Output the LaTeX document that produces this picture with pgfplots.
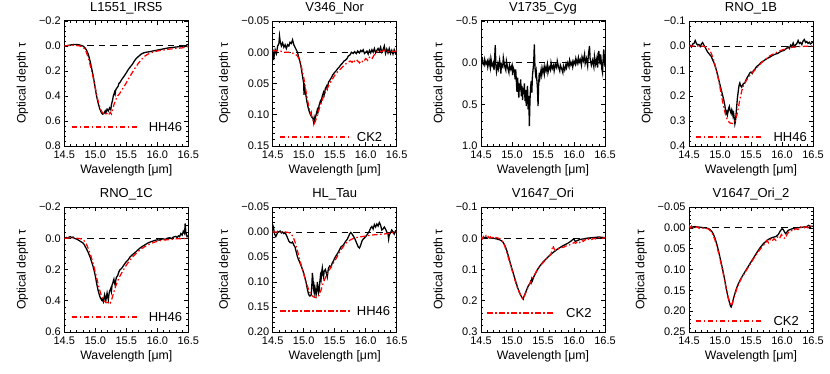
\documentclass[border=0pt]{standalone}
\usepackage{fontspec}
\setmainfont{Liberation Sans}
\usepackage{pgfplots}
\pgfplotsset{compat=1.18}
\definecolor{idlred}{RGB}{255,0,0}
\tikzset{keytext/.style={anchor=west, inner sep=0pt, font=\fontsize{13bp}{15bp}\selectfont}}
\pgfplotsset{
  panel/.style={
    scale only axis, width=124bp, height=125bp,
    anchor=south west,
    xmin=14.5, xmax=16.5,
    xtick={14.5,15,15.5,16,16.5},
    xticklabels={14.5,15.0,15.5,16.0,16.5},
    minor x tick num=4, minor y tick num=4,
    y dir=reverse,
    tick align=inside, xtick pos=both, ytick pos=both,
    xticklabel pos=bottom, yticklabel pos=left,
    major tick length=4bp, minor tick length=2bp,
    every tick/.style={black, line width=0.6pt},
    axis line style={line width=1pt},
    tick label style={font=\fontsize{11bp}{13bp}\selectfont},
    xticklabel style={yshift=-1.5bp},
    label style={font=\fontsize{12.3bp}{14bp}\selectfont},
    title style={font=\fontsize{13bp}{15bp}\selectfont, yshift=-3bp},
    xlabel={Wavelength [μm]},
    ylabel={Optical depth τ},
    xlabel shift=-1bp,
    ylabel shift=4bp,
  },
  obs/.style={black, line width=1.3pt, forget plot},
  mod/.style={idlred, line width=1.25pt, dash pattern=on 5.5bp off 2.5bp on 1.5bp off 2.5bp, forget plot},
  key/.style={idlred, line width=1.5pt, dash pattern=on 5.5bp off 2.5bp on 1.5bp off 2.5bp, forget plot},
  zero/.style={black, line width=1pt, dash pattern=on 6.5bp off 5bp, forget plot},
}
\begin{document}
\begin{tikzpicture}
\path[use as bounding box] (0,0) rectangle (830bp,374bp);
% ---------- Panel 1 ----------
\begin{axis}[panel, at={(64.3bp,228bp)}, title={L1551\_IRS5},
  ymin=-0.2, ymax=0.8, ytick={-0.2,0,0.2,0.4,0.6,0.8},
  yticklabels={−0.2,0.0,0.2,0.4,0.6,0.8}]
\addplot[zero] coordinates {(14.5,0) (16.5,0)};
\addplot[obs] coordinates {
(14.50,0.000)(14.55,-0.003)(14.60,-0.008)(14.65,-0.012)(14.70,-0.012)(14.75,-0.008)
(14.80,0.000)(14.83,0.012)(14.86,0.035)(14.89,0.070)(14.92,0.130)(14.95,0.200)
(14.97,0.250)(15.00,0.340)(15.02,0.400)(15.05,0.465)(15.07,0.500)(15.10,0.535)
(15.12,0.545)(15.14,0.540)(15.16,0.520)(15.17,0.535)(15.19,0.505)(15.21,0.520)
(15.23,0.495)(15.25,0.510)(15.26,0.470)(15.28,0.430)(15.29,0.400)(15.31,0.370)
(15.32,0.385)(15.33,0.350)(15.35,0.335)(15.37,0.320)(15.38,0.300)(15.40,0.290)
(15.43,0.265)(15.46,0.245)(15.50,0.215)(15.53,0.190)(15.56,0.170)(15.60,0.145)
(15.63,0.120)(15.66,0.100)(15.70,0.082)(15.74,0.065)(15.78,0.055)(15.82,0.050)
(15.86,0.047)(15.90,0.043)(15.95,0.038)(16.00,0.033)(16.05,0.028)(16.10,0.023)
(16.15,0.018)(16.20,0.014)(16.25,0.012)(16.30,0.008)(16.35,0.006)(16.40,0.004)
(16.43,-0.002)(16.45,0.003)(16.48,-0.010)(16.50,-0.012)};
\addplot[mod] coordinates {
(14.50,0.000)(14.55,-0.004)(14.60,-0.005)(14.65,-0.006)(14.70,-0.004)(14.75,0.000)
(14.80,0.008)(14.84,0.030)(14.87,0.070)(14.90,0.120)(14.93,0.180)(14.96,0.240)
(14.99,0.310)(15.02,0.385)(15.05,0.450)(15.08,0.500)(15.11,0.530)(15.14,0.540)
(15.17,0.545)(15.20,0.535)(15.22,0.548)(15.24,0.530)(15.26,0.545)(15.28,0.510)
(15.30,0.470)(15.33,0.430)(15.36,0.400)(15.40,0.375)(15.45,0.335)(15.50,0.295)
(15.55,0.250)(15.60,0.210)(15.65,0.170)(15.70,0.135)(15.75,0.105)(15.80,0.080)
(15.85,0.065)(15.90,0.055)(15.95,0.047)(16.00,0.040)(16.10,0.032)(16.20,0.025)
(16.30,0.020)(16.40,0.015)(16.45,0.010)(16.50,0.005)};
\addplot[key] coordinates {(14.62,0.648) (15.668,0.648)};
\node[keytext] at (axis cs:15.86,0.646) {HH46};
\end{axis}
% ---------- Panel 2 ----------
\begin{axis}[panel, at={(272.7bp,228bp)}, title={V346\_Nor},
  ymin=-0.05, ymax=0.15, ytick={-0.05,0,0.05,0.1,0.15},
  yticklabels={−0.05,0.00,0.05,0.10,0.15}]
\addplot[zero] coordinates {(14.5,0) (16.5,0)};
\addplot[obs] coordinates {
(14.50,0.012)(14.51,0.002)(14.52,0.008)(14.54,-0.004)(14.56,0.002)(14.58,-0.010)
(14.60,-0.014)(14.61,-0.026)(14.62,-0.018)(14.64,-0.010)(14.66,-0.015)(14.68,-0.008)
(14.70,-0.012)(14.72,-0.006)(14.74,-0.012)(14.76,-0.010)(14.78,-0.016)(14.80,-0.014)
(14.82,-0.020)(14.84,-0.012)(14.86,-0.008)(14.88,-0.004)(14.90,0.000)(14.92,0.008)
(14.94,0.015)(14.96,0.025)(14.98,0.038)(15.00,0.050)(15.005,0.068)(15.01,0.050)
(15.03,0.065)(15.05,0.078)(15.07,0.088)(15.09,0.095)(15.11,0.100)(15.12,0.097)
(15.13,0.104)(15.15,0.106)(15.16,0.112)(15.17,0.104)(15.18,0.108)(15.20,0.100)
(15.22,0.092)(15.23,0.096)(15.25,0.084)(15.27,0.078)(15.28,0.080)(15.30,0.070)
(15.32,0.064)(15.33,0.068)(15.35,0.058)(15.37,0.054)(15.38,0.058)(15.40,0.048)
(15.42,0.045)(15.45,0.040)(15.47,0.036)(15.50,0.032)(15.52,0.030)(15.55,0.026)
(15.57,0.024)(15.60,0.020)(15.62,0.018)(15.65,0.014)(15.67,0.013)(15.70,0.010)
(15.72,0.006)(15.75,0.004)(15.77,0.000)(15.80,0.002)(15.82,-0.001)(15.85,0.002)
(15.87,-0.002)(15.90,0.001)(15.92,-0.003)(15.94,-0.001)(15.96,-0.004)(15.98,0.002)
(16.00,0.000)(16.02,-0.002)(16.04,0.003)(16.06,-0.003)(16.08,0.001)(16.10,-0.004)
(16.12,0.000)(16.14,-0.006)(16.16,0.001)(16.18,-0.003)(16.20,-0.006)(16.22,-0.002)
(16.24,-0.008)(16.26,0.000)(16.28,-0.004)(16.30,-0.010)(16.32,0.002)(16.34,-0.005)
(16.36,0.001)(16.38,-0.006)(16.40,0.002)(16.42,-0.003)(16.44,0.003)(16.46,-0.004)
(16.48,0.002)(16.50,-0.002)};
\addplot[mod] coordinates {
(14.50,-0.003)(14.55,-0.002)(14.60,-0.003)(14.65,-0.001)(14.70,0.000)(14.75,0.000)
(14.80,0.001)(14.85,0.002)(14.90,0.006)(14.93,0.012)(14.96,0.022)(15.00,0.040)
(15.03,0.058)(15.06,0.076)(15.09,0.090)(15.12,0.100)(15.15,0.108)(15.17,0.114)
(15.19,0.110)(15.21,0.104)(15.24,0.094)(15.27,0.084)(15.30,0.076)(15.35,0.064)
(15.40,0.054)(15.45,0.045)(15.50,0.037)(15.55,0.031)(15.60,0.026)(15.65,0.021)
(15.70,0.017)(15.75,0.014)(15.78,0.016)(15.80,0.012)(15.83,0.016)(15.86,0.013)
(15.90,0.017)(15.93,0.013)(15.96,0.016)(16.00,0.010)(16.03,0.013)(16.06,0.008)
(16.10,0.011)(16.13,0.005)(16.16,0.002)(16.20,-0.002)(16.25,-0.001)(16.30,-0.003)
(16.35,-0.001)(16.40,-0.002)(16.45,-0.001)(16.50,-0.002)};
\addplot[key] coordinates {(14.614,0.1356) (15.774,0.1356)};
\node[keytext] at (axis cs:15.855,0.135) {CK2};
\end{axis}
% ---------- Panel 3 ----------
\begin{axis}[panel, at={(481bp,228bp)}, title={V1735\_Cyg},
  ymin=-0.5, ymax=1.0, ytick={-0.5,0,0.5,1.0},
  yticklabels={−0.5,0.0,0.5,1.0}]
\addplot[zero] coordinates {(14.5,0) (16.5,0)};
\addplot[obs] coordinates {
(14.50,-0.03)(14.51,0.02)(14.52,-0.07)(14.53,0.00)(14.55,0.03)(14.56,-0.04)
(14.58,0.02)(14.60,-0.02)(14.61,0.05)(14.63,-0.03)(14.65,0.06)(14.66,-0.05)
(14.68,0.04)(14.70,0.00)(14.71,0.09)(14.72,-0.05)(14.73,-0.21)(14.74,0.03)
(14.75,0.11)(14.77,0.02)(14.78,0.07)(14.80,-0.03)(14.82,0.13)(14.83,0.02)
(14.85,0.05)(14.86,-0.06)(14.88,0.04)(14.90,0.09)(14.91,-0.02)(14.93,0.06)
(14.95,0.12)(14.96,0.03)(14.98,0.08)(15.00,0.03)(15.01,0.15)(15.02,0.06)
(15.04,0.10)(15.05,0.20)(15.06,0.08)(15.07,0.22)(15.08,0.35)(15.09,0.18)
(15.10,0.30)(15.11,0.42)(15.12,0.25)(15.13,0.33)(15.14,0.20)(15.15,0.40)
(15.16,0.28)(15.17,0.45)(15.18,0.30)(15.19,0.38)(15.20,0.25)(15.21,0.46)
(15.22,0.33)(15.23,0.52)(15.24,0.36)(15.25,0.28)(15.26,0.56)(15.27,0.40)
(15.28,0.76)(15.29,0.45)(15.30,0.30)(15.31,0.22)(15.32,0.36)(15.33,0.15)
(15.34,0.08)(15.35,0.00)(15.36,-0.22)(15.37,0.05)(15.38,0.14)(15.39,0.10)
(15.40,0.20)(15.41,0.30)(15.42,0.52)(15.43,0.25)(15.44,0.12)(15.45,0.18)
(15.47,0.08)(15.48,0.15)(15.50,0.06)(15.52,0.14)(15.53,0.04)(15.55,0.10)
(15.57,0.02)(15.58,0.12)(15.60,0.05)(15.62,0.09)(15.63,0.00)(15.65,0.07)
(15.67,0.03)(15.68,0.10)(15.70,0.02)(15.72,0.06)(15.73,-0.02)(15.75,0.05)
(15.77,0.10)(15.78,0.03)(15.80,0.07)(15.82,0.12)(15.83,0.04)(15.85,0.09)
(15.87,0.02)(15.88,0.06)(15.90,0.00)(15.92,0.05)(15.93,-0.03)(15.95,0.03)
(15.97,-0.01)(15.98,0.05)(16.00,-0.02)(16.02,0.02)(16.03,-0.05)(16.05,0.01)
(16.07,-0.06)(16.08,0.00)(16.10,-0.04)(16.12,0.03)(16.13,-0.07)(16.15,-0.02)
(16.17,-0.10)(16.18,0.01)(16.20,-0.05)(16.22,0.04)(16.23,-0.08)(16.25,-0.20)
(16.26,-0.05)(16.28,0.03)(16.30,-0.03)(16.32,0.05)(16.33,-0.08)(16.35,0.02)
(16.37,-0.06)(16.38,0.06)(16.40,-0.14)(16.42,0.02)(16.43,-0.10)(16.45,0.08)
(16.46,0.12)(16.47,-0.04)(16.48,-0.16)(16.50,0.05)};
\end{axis}
% ---------- Panel 4 ----------
\begin{axis}[panel, at={(689bp,228bp)}, title={RNO\_1B},
  ymin=-0.1, ymax=0.4, ytick={-0.1,0,0.1,0.2,0.3,0.4},
  yticklabels={−0.1,0.0,0.1,0.2,0.3,0.4}]
\addplot[zero] coordinates {(14.5,0) (16.5,0)};
\addplot[obs] coordinates {
(14.50,0.005)(14.52,-0.002)(14.54,0.004)(14.56,-0.008)(14.58,-0.010)(14.60,-0.022)
(14.62,-0.010)(14.64,-0.004)(14.66,-0.006)(14.68,0.002)(14.70,-0.008)(14.72,-0.014)
(14.74,-0.004)(14.76,0.005)(14.78,0.015)(14.80,0.024)(14.82,0.030)(14.84,0.036)
(14.86,0.042)(14.88,0.055)(14.90,0.065)(14.92,0.080)(14.94,0.095)(14.96,0.115)
(14.98,0.135)(15.00,0.155)(15.02,0.175)(15.04,0.195)(15.06,0.215)(15.08,0.240)
(15.09,0.265)(15.10,0.270)(15.11,0.262)(15.12,0.275)(15.14,0.250)(15.15,0.242)
(15.16,0.255)(15.18,0.270)(15.19,0.255)(15.20,0.262)(15.21,0.280)(15.22,0.270)
(15.23,0.290)(15.24,0.312)(15.25,0.300)(15.26,0.270)(15.27,0.240)(15.28,0.210)
(15.29,0.190)(15.30,0.170)(15.31,0.155)(15.32,0.148)(15.33,0.158)(15.35,0.165)
(15.36,0.158)(15.38,0.150)(15.40,0.148)(15.42,0.135)(15.44,0.125)(15.46,0.118)
(15.48,0.108)(15.50,0.104)(15.52,0.110)(15.54,0.098)(15.56,0.094)(15.58,0.086)
(15.60,0.080)(15.63,0.075)(15.66,0.066)(15.70,0.060)(15.73,0.055)(15.76,0.050)
(15.80,0.045)(15.83,0.040)(15.86,0.036)(15.90,0.032)(15.93,0.030)(15.96,0.025)
(16.00,0.020)(16.03,0.018)(16.06,0.012)(16.10,0.004)(16.12,0.010)(16.14,-0.004)
(16.16,0.002)(16.18,-0.012)(16.20,0.002)(16.22,-0.005)(16.24,-0.010)(16.26,-0.022)
(16.28,-0.010)(16.30,-0.014)(16.32,-0.006)(16.34,-0.020)(16.36,-0.026)(16.38,-0.014)
(16.40,-0.018)(16.42,-0.010)(16.44,-0.015)(16.46,-0.008)(16.48,-0.012)(16.50,-0.018)};
\addplot[mod] coordinates {
(14.50,0.000)(14.60,0.000)(14.70,0.000)(14.75,0.002)(14.80,0.006)(14.83,0.015)
(14.86,0.030)(14.89,0.050)(14.92,0.075)(14.95,0.105)(14.98,0.140)(15.01,0.180)
(15.04,0.220)(15.07,0.255)(15.10,0.285)(15.13,0.300)(15.16,0.308)(15.20,0.310)
(15.23,0.306)(15.26,0.290)(15.29,0.255)(15.32,0.215)(15.35,0.180)(15.38,0.158)
(15.42,0.140)(15.46,0.125)(15.50,0.112)(15.55,0.100)(15.60,0.085)(15.65,0.072)
(15.70,0.060)(15.75,0.050)(15.80,0.040)(15.85,0.033)(15.90,0.027)(15.95,0.021)
(16.00,0.016)(16.05,0.012)(16.10,0.008)(16.20,0.004)(16.30,0.002)(16.40,0.001)
(16.50,0.000)};
\addplot[key] coordinates {(14.605,0.364) (15.673,0.364)};
\node[keytext] at (axis cs:15.86,0.365) {HH46};
\end{axis}
% ---------- Panel 5 ----------
\begin{axis}[panel, at={(64.3bp,42bp)}, title={RNO\_1C},
  ymin=-0.2, ymax=0.6, ytick={-0.2,0,0.2,0.4,0.6},
  yticklabels={−0.2,0.0,0.2,0.4,0.6}]
\addplot[zero] coordinates {(14.5,0) (16.5,0)};
\addplot[obs] coordinates {
(14.50,0.000)(14.53,-0.005)(14.56,-0.002)(14.58,-0.008)(14.60,-0.010)(14.62,-0.004)
(14.64,-0.008)(14.66,0.000)(14.68,0.003)(14.70,0.005)(14.72,0.010)(14.74,0.015)
(14.76,0.020)(14.78,0.025)(14.80,0.030)(14.82,0.040)(14.84,0.055)(14.86,0.070)
(14.88,0.085)(14.90,0.105)(14.92,0.125)(14.94,0.150)(14.96,0.175)(14.98,0.205)
(15.00,0.240)(15.02,0.285)(15.04,0.325)(15.06,0.355)(15.08,0.380)(15.10,0.395)
(15.11,0.388)(15.12,0.400)(15.13,0.408)(15.14,0.380)(15.15,0.362)(15.16,0.385)
(15.17,0.400)(15.18,0.370)(15.19,0.350)(15.20,0.375)(15.21,0.395)(15.22,0.360)
(15.23,0.340)(15.24,0.330)(15.25,0.320)(15.26,0.340)(15.27,0.300)(15.28,0.290)
(15.29,0.275)(15.30,0.262)(15.31,0.285)(15.32,0.300)(15.33,0.270)(15.34,0.250)
(15.36,0.240)(15.38,0.215)(15.40,0.200)(15.42,0.195)(15.45,0.178)(15.48,0.160)
(15.50,0.150)(15.53,0.138)(15.56,0.120)(15.60,0.105)(15.63,0.095)(15.66,0.085)
(15.70,0.070)(15.73,0.060)(15.76,0.052)(15.80,0.042)(15.83,0.035)(15.86,0.028)
(15.90,0.022)(15.93,0.018)(15.96,0.014)(16.00,0.010)(16.03,0.012)(16.06,0.006)
(16.10,0.004)(16.13,0.008)(16.16,0.000)(16.20,-0.004)(16.23,0.002)(16.26,-0.008)
(16.30,-0.012)(16.32,-0.004)(16.34,-0.015)(16.36,-0.010)(16.38,-0.030)(16.40,-0.020)
(16.42,-0.045)(16.44,-0.030)(16.45,-0.095)(16.46,-0.040)(16.48,-0.010)(16.50,-0.015)};
\addplot[mod] coordinates {
(14.50,0.000)(14.60,-0.002)(14.70,0.000)(14.75,0.002)(14.80,0.008)(14.84,0.025)
(14.87,0.050)(14.90,0.080)(14.93,0.115)(14.96,0.155)(14.99,0.200)(15.02,0.250)
(15.05,0.300)(15.08,0.345)(15.11,0.380)(15.14,0.400)(15.17,0.410)(15.20,0.412)
(15.22,0.405)(15.24,0.415)(15.26,0.400)(15.28,0.370)(15.31,0.330)(15.34,0.295)
(15.37,0.265)(15.40,0.240)(15.45,0.205)(15.50,0.172)(15.55,0.145)(15.60,0.120)
(15.65,0.100)(15.70,0.082)(15.75,0.066)(15.80,0.053)(15.85,0.042)(15.90,0.033)
(15.95,0.026)(16.00,0.020)(16.10,0.012)(16.20,0.008)(16.30,0.004)(16.40,0.003)
(16.50,0.000)};
\addplot[key] coordinates {(14.62,0.504) (15.668,0.504)};
\node[keytext] at (axis cs:15.86,0.502) {HH46};
\end{axis}
% ---------- Panel 6 ----------
\begin{axis}[panel, at={(272.7bp,42bp)}, title={HL\_Tau},
  ymin=-0.05, ymax=0.20, ytick={-0.05,0,0.05,0.1,0.15,0.2},
  yticklabels={−0.05,0.00,0.05,0.10,0.15,0.20}]
\addplot[zero] coordinates {(14.5,0) (16.5,0)};
\addplot[obs] coordinates {
(14.50,-0.015)(14.51,-0.010)(14.52,-0.003)(14.53,0.004)(14.55,0.009)(14.57,0.004)
(14.58,-0.001)(14.60,0.000)(14.62,-0.002)(14.64,0.002)(14.66,0.000)(14.68,0.003)
(14.70,0.001)(14.72,0.006)(14.74,0.012)(14.76,0.018)(14.78,0.021)(14.80,0.022)
(14.82,0.020)(14.84,0.026)(14.86,0.030)(14.88,0.040)(14.90,0.050)(14.92,0.056)
(14.94,0.062)(14.96,0.068)(14.98,0.075)(15.00,0.082)(15.02,0.092)(15.04,0.102)
(15.06,0.115)(15.08,0.125)(15.10,0.128)(15.12,0.126)(15.13,0.110)(15.14,0.082)
(15.15,0.095)(15.16,0.115)(15.17,0.122)(15.18,0.110)(15.19,0.118)(15.20,0.126)
(15.21,0.118)(15.22,0.100)(15.23,0.110)(15.24,0.122)(15.25,0.118)(15.26,0.100)
(15.27,0.088)(15.28,0.095)(15.29,0.080)(15.30,0.072)(15.31,0.085)(15.32,0.090)
(15.33,0.078)(15.35,0.075)(15.37,0.085)(15.38,0.090)(15.39,0.080)(15.40,0.072)
(15.42,0.068)(15.44,0.070)(15.46,0.062)(15.48,0.058)(15.50,0.052)(15.52,0.048)
(15.54,0.044)(15.56,0.040)(15.58,0.035)(15.60,0.030)(15.62,0.028)(15.64,0.026)
(15.66,0.022)(15.68,0.018)(15.70,0.015)(15.72,0.010)(15.74,0.004)(15.76,0.001)
(15.78,0.004)(15.80,0.008)(15.82,0.012)(15.84,0.018)(15.86,0.024)(15.88,0.030)
(15.90,0.032)(15.92,0.026)(15.94,0.018)(15.96,0.014)(15.98,0.012)(16.00,0.009)
(16.02,0.006)(16.04,0.002)(16.06,-0.002)(16.08,-0.008)(16.10,-0.011)(16.12,-0.006)
(16.14,-0.015)(16.16,-0.010)(16.18,-0.016)(16.20,-0.012)(16.22,-0.019)(16.24,-0.014)
(16.26,-0.004)(16.28,-0.006)(16.30,-0.010)(16.32,-0.006)(16.34,0.000)(16.36,0.004)
(16.37,0.014)(16.38,0.006)(16.40,0.002)(16.42,-0.004)(16.44,-0.001)(16.46,0.004)
(16.48,-0.002)(16.50,0.000)};
\addplot[mod] coordinates {
(14.50,0.000)(14.60,0.000)(14.70,0.000)(14.76,0.001)(14.80,0.004)(14.83,0.010)
(14.86,0.020)(14.89,0.033)(14.92,0.048)(14.95,0.062)(14.98,0.075)(15.01,0.088)
(15.04,0.101)(15.07,0.112)(15.10,0.121)(15.13,0.127)(15.16,0.130)(15.19,0.131)
(15.22,0.131)(15.25,0.126)(15.28,0.116)(15.31,0.104)(15.34,0.094)(15.37,0.086)
(15.40,0.079)(15.45,0.068)(15.50,0.058)(15.55,0.047)(15.60,0.036)(15.65,0.027)
(15.70,0.020)(15.75,0.016)(15.80,0.013)(15.85,0.011)(15.90,0.010)(16.00,0.008)
(16.10,0.006)(16.20,0.005)(16.30,0.004)(16.40,0.002)(16.50,0.000)};
\addplot[key] coordinates {(14.618,0.158) (15.774,0.158)};
\node[keytext] at (axis cs:15.855,0.158) {HH46};
\end{axis}
% ---------- Panel 7 ----------
\begin{axis}[panel, at={(481bp,42bp)}, title={V1647\_Ori},
  ymin=-0.1, ymax=0.3, ytick={-0.1,0,0.1,0.2,0.3},
  yticklabels={−0.1,0.0,0.1,0.2,0.3}]
\addplot[zero] coordinates {(14.5,0) (16.5,0)};
\addplot[obs] coordinates {
(14.50,0.000)(14.55,-0.002)(14.60,-0.003)(14.65,-0.001)(14.70,0.000)(14.75,0.002)
(14.80,0.005)(14.83,0.008)(14.86,0.014)(14.89,0.025)(14.92,0.042)(14.95,0.063)
(14.98,0.085)(15.01,0.105)(15.04,0.125)(15.07,0.145)(15.10,0.163)(15.13,0.178)
(15.15,0.186)(15.17,0.192)(15.18,0.195)(15.19,0.188)(15.21,0.178)(15.23,0.168)
(15.25,0.158)(15.27,0.150)(15.29,0.145)(15.30,0.138)(15.31,0.142)(15.32,0.130)
(15.33,0.136)(15.35,0.124)(15.37,0.116)(15.40,0.104)(15.43,0.094)(15.46,0.086)
(15.50,0.076)(15.54,0.068)(15.58,0.060)(15.62,0.052)(15.66,0.046)(15.70,0.040)
(15.74,0.034)(15.78,0.029)(15.82,0.024)(15.86,0.020)(15.90,0.016)(15.93,0.012)
(15.96,0.008)(15.98,0.004)(16.00,0.003)(16.02,0.010)(16.05,0.008)(16.08,0.005)
(16.12,0.003)(16.16,0.002)(16.20,0.000)(16.25,-0.001)(16.30,-0.002)(16.35,-0.003)
(16.40,-0.004)(16.45,-0.003)(16.50,-0.002)};
\addplot[mod] coordinates {
(14.50,-0.004)(14.52,0.002)(14.54,-0.006)(14.56,-0.002)(14.58,-0.008)(14.60,0.000)
(14.62,-0.005)(14.64,-0.001)(14.66,-0.006)(14.68,0.000)(14.70,-0.004)(14.72,0.000)
(14.75,-0.002)(14.78,0.000)(14.81,0.002)(14.84,0.008)(14.87,0.018)(14.90,0.035)
(14.93,0.055)(14.96,0.075)(14.99,0.095)(15.02,0.116)(15.05,0.136)(15.08,0.155)
(15.11,0.170)(15.14,0.183)(15.17,0.193)(15.19,0.190)(15.21,0.180)(15.24,0.166)
(15.27,0.152)(15.30,0.140)(15.35,0.122)(15.40,0.104)(15.45,0.090)(15.50,0.078)
(15.55,0.068)(15.60,0.058)(15.63,0.052)(15.65,0.030)(15.66,0.024)(15.68,0.034)
(15.70,0.040)(15.73,0.036)(15.76,0.032)(15.80,0.030)(15.84,0.028)(15.88,0.024)
(15.92,0.022)(15.96,0.018)(16.00,0.014)(16.03,0.016)(16.06,0.010)(16.09,0.014)
(16.12,0.006)(16.15,0.010)(16.18,0.004)(16.21,0.008)(16.24,0.002)(16.28,0.005)
(16.32,0.000)(16.36,0.003)(16.40,-0.002)(16.45,0.001)(16.50,-0.002)};
\addplot[key] coordinates {(14.602,0.2392) (15.666,0.2392)};
\node[keytext] at (axis cs:15.871,0.238) {CK2};
\end{axis}
% ---------- Panel 8 ----------
\begin{axis}[panel, at={(689bp,42bp)}, title={V1647\_Ori\_2},
  ymin=-0.05, ymax=0.25, ytick={-0.05,0,0.05,0.1,0.15,0.2,0.25},
  yticklabels={−0.05,0.00,0.05,0.10,0.15,0.20,0.25}]
\addplot[zero] coordinates {(14.5,0) (16.5,0)};
\addplot[obs] coordinates {
(14.50,0.000)(14.55,-0.002)(14.60,-0.003)(14.65,-0.002)(14.70,-0.001)(14.75,0.000)
(14.80,0.001)(14.83,0.003)(14.86,0.007)(14.89,0.014)(14.92,0.025)(14.95,0.040)
(14.98,0.058)(15.01,0.078)(15.04,0.098)(15.07,0.120)(15.10,0.145)(15.13,0.167)
(15.15,0.178)(15.17,0.188)(15.18,0.190)(15.19,0.186)(15.20,0.180)(15.22,0.168)
(15.24,0.158)(15.26,0.148)(15.28,0.140)(15.30,0.133)(15.33,0.124)(15.36,0.116)
(15.40,0.106)(15.45,0.094)(15.50,0.082)(15.55,0.070)(15.60,0.058)(15.65,0.047)
(15.70,0.038)(15.75,0.031)(15.80,0.026)(15.85,0.023)(15.90,0.021)(15.94,0.016)
(15.97,0.008)(16.00,0.002)(16.02,0.004)(16.04,0.010)(16.06,0.014)(16.08,0.010)
(16.10,0.006)(16.15,0.003)(16.20,0.001)(16.25,0.000)(16.30,-0.001)(16.35,-0.002)
(16.40,-0.003)(16.43,-0.006)(16.46,-0.003)(16.50,-0.004)};
\addplot[mod] coordinates {
(14.50,-0.006)(14.52,0.000)(14.54,-0.004)(14.56,0.002)(14.58,-0.003)(14.60,0.000)
(14.63,-0.003)(14.66,0.001)(14.70,0.000)(14.75,0.001)(14.80,0.002)(14.83,0.005)
(14.86,0.010)(14.89,0.018)(14.92,0.030)(14.95,0.045)(14.98,0.062)(15.01,0.081)
(15.04,0.101)(15.07,0.123)(15.10,0.146)(15.13,0.166)(15.16,0.180)(15.18,0.187)
(15.20,0.182)(15.22,0.170)(15.25,0.156)(15.28,0.143)(15.31,0.132)(15.35,0.120)
(15.40,0.108)(15.45,0.096)(15.50,0.084)(15.55,0.072)(15.60,0.061)(15.65,0.051)
(15.70,0.042)(15.73,0.038)(15.76,0.030)(15.78,0.036)(15.81,0.028)(15.84,0.032)
(15.87,0.026)(15.90,0.030)(15.93,0.022)(15.96,0.026)(15.99,0.016)(16.02,0.022)
(16.05,0.026)(16.08,0.016)(16.11,0.010)(16.14,0.006)(16.18,0.008)(16.22,0.002)
(16.26,0.004)(16.30,-0.002)(16.34,0.002)(16.38,-0.003)(16.42,0.000)(16.46,-0.004)
(16.50,-0.003)};
\addplot[key] coordinates {(14.605,0.2236) (15.673,0.2236)};
\node[keytext] at (axis cs:15.86,0.224) {CK2};
\end{axis}
\end{tikzpicture}
\end{document}
